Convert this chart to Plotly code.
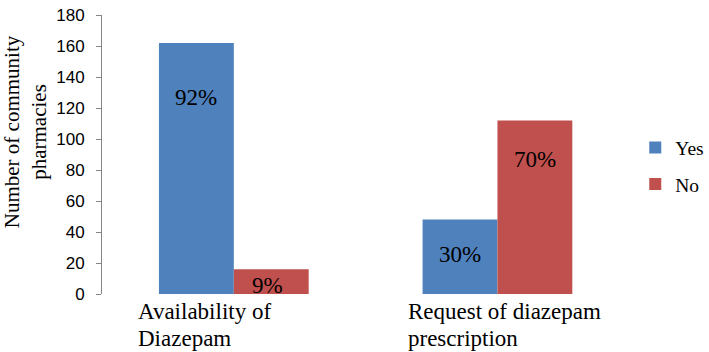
import plotly.graph_objects as go

categories = ["Availability of Diazepam", "Request of diazepam prescription"]
category_label_lines = [["Availability of", "Diazepam"], ["Request of diazepam", "prescription"]]
yes_values = [162, 48]
no_values = [16, 112]
yes_labels = ["92%", "30%"]
no_labels = ["9%", "70%"]
y_ticks = [0, 20, 40, 60, 80, 100, 120, 140, 160, 180]

BLUE = "#4F81BD"
RED = "#C0504D"
SERIF = "Liberation Serif, Times New Roman, serif"
SANS = "Liberation Sans, Arial, sans-serif"

bargap = 0.432
fig = go.Figure()
fig.add_trace(go.Bar(name="Yes", x=categories, y=yes_values, legendgroup="yes",
                     marker=dict(color=BLUE, line=dict(width=0))))
fig.add_trace(go.Bar(name="No", x=categories, y=no_values, legendgroup="no",
                     marker=dict(color=RED, line=dict(width=0))))

off = (1 - bargap) / 4
# label vertical offsets (pixels below bar top)
yes_shift = [-55, -35]
no_shift = [-16, -39]
annots = []
for i, c in enumerate(categories):
    annots.append(dict(x=i - off, y=yes_values[i], xref="x", yref="y", text=yes_labels[i],
                       showarrow=False, yshift=yes_shift[i],
                       font=dict(family=SERIF, size=23, color="black")))
    annots.append(dict(x=i + off, y=no_values[i], xref="x", yref="y", text=no_labels[i],
                       showarrow=False, yshift=no_shift[i], xshift=-4 if i == 0 else 0,
                       font=dict(family=SERIF, size=23, color="black")))

label_xshift = [-98, -91]
line_gap = 27
for i, lines in enumerate(category_label_lines):
    for j, line in enumerate(lines):
        annots.append(dict(x=i, y=0, xref="x", yref="y", text=line, showarrow=False,
                           xanchor="left", yanchor="top", yshift=-3 - j * line_gap,
                           xshift=label_xshift[i],
                           font=dict(family=SERIF, size=23, color="black")))

annots.append(dict(text="Number of community<br>pharmacies", xref="paper", yref="paper",
                   x=-0.146, y=0.58, xanchor="center", yanchor="middle", textangle=-90,
                   showarrow=False, font=dict(family=SERIF, size=21, color="black")))

fig.update_layout(
    width=709, height=352,
    margin=dict(l=102, r=79, t=6, b=58),
    paper_bgcolor="white", plot_bgcolor="white",
    barmode="group", bargap=bargap, bargroupgap=0,
    showlegend=True,
    legend=dict(xref="container", x=0.896, y=0.459, xanchor="left", yanchor="middle",
                font=dict(family=SERIF, size=19.5, color="black"),
                traceorder="grouped", tracegroupgap=8, itemwidth=30,
                bgcolor="rgba(0,0,0,0)"),
    annotations=annots,
)
fig.update_xaxes(showticklabels=False, showline=False, ticks="", showgrid=False,
                 zeroline=False, range=[-0.5, 1.5])
fig.update_yaxes(range=[0, 180], tickvals=y_ticks, showgrid=False, zeroline=False,
                 showline=True, linecolor="#868686", linewidth=1,
                 ticks="outside", ticklen=5, tickcolor="#868686",
                 tickfont=dict(family=SANS, size=17, color="black"),
                 ticklabelstandoff=8, ticklabeloverflow="allow")

fig.write_html("out.html", config={"displayModeBar": False},
               post_script="document.body.style.margin='0';")
